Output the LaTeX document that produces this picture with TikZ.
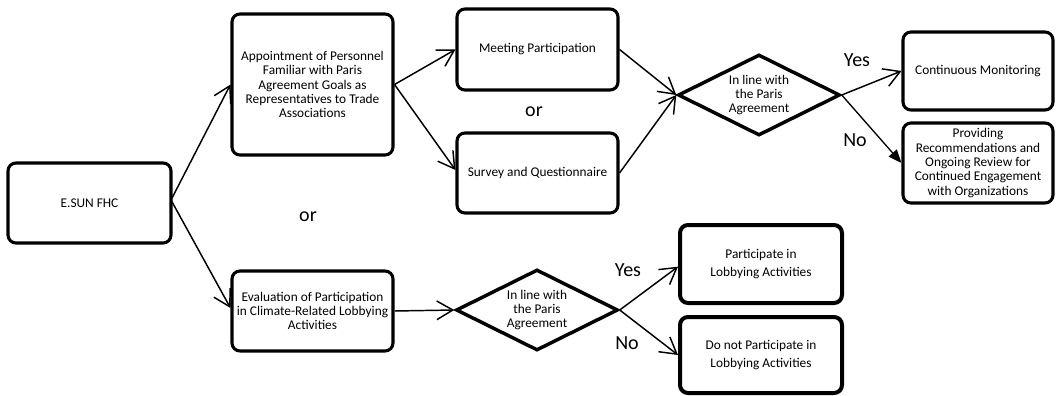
\documentclass[tikz,border=0pt]{standalone}
\usepackage{fontspec}
\setmainfont{Carlito}
\usetikzlibrary{shapes.geometric,arrows.meta}
\tikzset{
  box/.style={draw, line width=2.3pt, rounded corners=6pt, align=center, inner sep=1pt,
    font=\fontsize{10}{10.8}\selectfont},
  bbox/.style={box, line width=3pt},
  dec/.style={draw, diamond, line width=2.6pt, align=center, inner sep=0pt,
    minimum width=121.5pt, minimum height=60.75pt, aspect=2,
    font=\fontsize{10}{10.8}\selectfont},
  lbl/.style={font=\fontsize{15}{18}\selectfont, inner sep=0pt},
  arr/.style={line width=1.1pt, -{Straight Barb[length=12pt,width=14pt,line width=1.1pt]}},
  tarr/.style={line width=1pt, -{Triangle[length=10pt,width=8pt]}},
}
\begin{document}
\begin{tikzpicture}[x=0.75pt,y=-0.75pt]
\useasboundingbox (0,0) rectangle (1057,396);
\node[box, minimum width=122.25pt, minimum height=60pt] (esun) at (89.5,203) {E.SUN FHC};
\node[box, minimum width=120.75pt, minimum height=105.75pt] (appt) at (312.5,84.5)
  {Appointment of Personnel\\Familiar with Paris\\Agreement Goals as\\Representatives to Trade\\Associations};
\node[box, minimum width=120.75pt, minimum height=60.75pt] (meet) at (537.5,49.5) {Meeting Participation};
\node[box, minimum width=120.75pt, minimum height=60pt] (surv) at (537.5,173) {Survey and Questionnaire};
\node[dec] (d1) at (759,95) {In line with\\the Paris\\Agreement};
\node[box, minimum width=112.5pt, minimum height=58.5pt] (cont) at (978,71) {Continuous Monitoring};
\node[box, minimum width=112.5pt, minimum height=60pt] (prov) at (978,163)
  {Providing\\Recommendations and\\Ongoing Review for\\Continued Engagement\\with Organizations};
\node[box, minimum width=120.75pt, minimum height=60pt] (eval) at (312.5,311)
  {Evaluation of Participation\\in Climate-Related Lobbying\\Activities};
\node[dec] (d2) at (537,310) {In line with\\the Paris\\Agreement};
\node[bbox, minimum width=121.5pt, minimum height=58.5pt] (part) at (761,264) {Participate in\\[3pt]Lobbying Activities};
\node[bbox, minimum width=121.5pt, minimum height=57pt] (dont) at (761,355) {Do not Participate in\\[3pt]Lobbying Activities};
\node[lbl] (or1) at (534,112) {or};
\node[lbl] (or2) at (308,217) {or};
\node[lbl] (y1) at (857,60) {Yes};
\node[lbl] (n1) at (855,140) {No};
\node[lbl] (y2) at (628,270) {Yes};
\node[lbl] (n2) at (627,343) {No};
\coordinate (e0) at (171,200);
\draw[arr] (e0) -- (appt.west);
\draw[arr] (e0) -- ([yshift=2.25pt]eval.west);
\draw[arr] (appt.east) -- (meet.west);
\draw[arr] (appt.east) -- ([yshift=2.25pt]surv.west);
\draw[arr] (meet.east) -- (d1.west);
\draw[arr] (surv.east) -- (d1.west);
\draw[arr] (d1.east) -- (cont.west);
\draw[tarr] (d1.east) -- (prov.west);
\draw[arr] (eval.east) -- (d2.west);
\draw[arr] (d2.east) -- ([yshift=-2pt]part.west);
\draw[arr] (d2.east) -- (dont.west);
\end{tikzpicture}
\end{document}
